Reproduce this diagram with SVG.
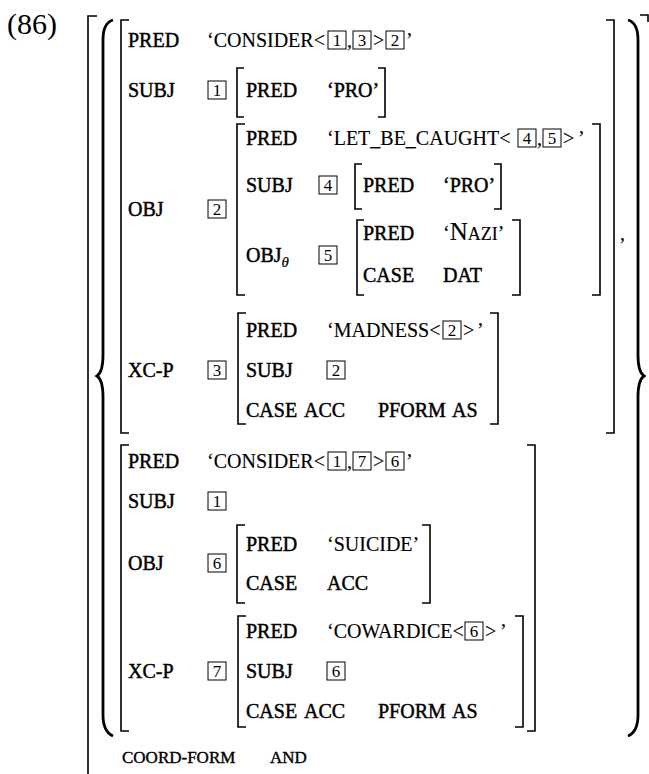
<svg xmlns="http://www.w3.org/2000/svg" width="649" height="774" viewBox="0 0 649 774">
<style>
text { font-family: "Liberation Serif", "Times New Roman", serif; fill: #000; }
.a { font-size: 20px; stroke: #000; stroke-width: 0.45; }
.v { font-size: 20px; stroke: #000; stroke-width: 0.15; }
.d { font-size: 17px; text-anchor: middle; }
.bx { fill: none; stroke: #000; stroke-width: 1; }
.br { fill: none; stroke: #000; stroke-width: 1.6; }
.brace { fill: none; stroke: #000; stroke-width: 2.8; }
.sm { font-size: 17px; stroke: #000; stroke-width: 0.4; }
</style>
<rect width="649" height="774" fill="#fff"/>
<text x="7" y="34" style="font-size:30px">(86)</text>

<g id="connectors">
  <path class="br" d="M97,16 H88 V774"/>
  <path class="br" d="M640,15 H648 V22"/>
  <path class="brace" d="M113,20 C106,22 103,28 103,40 V355 C103,368 100,374 97,376 C100,378 103,384 103,397 V715 C103,727 106,733 113,736"/>
  <path class="brace" d="M628,20 C635,22 638,28 638,40 V355 C638,368 641,374 644,376 C641,378 638,384 638,397 V715 C638,727 635,733 628,736"/>
</g>

<g id="conj1">
  <path class="br" d="M129,20 H121 V433 H129"/>
  <path class="br" d="M606,20 H614 V433 H606"/>
  <text class="a" x="128" y="47">PRED</text>
  <text class="v" x="207" y="47">‘CONSIDER&lt;</text>
  <rect class="bx" x="328" y="31" width="18" height="18"/><text class="d" x="337" y="46">1</text>
  <text class="v" x="347" y="47">,</text>
  <rect class="bx" x="353" y="31" width="18" height="18"/><text class="d" x="362" y="46">3</text>
  <text class="v" x="373" y="47">&gt;</text>
  <rect class="bx" x="386" y="31" width="18" height="18"/><text class="d" x="395" y="46">2</text>
  <text class="v" x="406" y="47">’</text>

  <text class="a" x="128" y="97">SUBJ</text>
  <rect class="bx" x="208" y="81" width="18" height="18"/><text class="d" x="217" y="96">1</text>
  <g id="subj1">
    <path class="br" d="M244,68 H237 V117 H244"/>
    <path class="br" d="M378,68 H385 V117 H378"/>
    <text class="a" x="246" y="97">PRED</text>
    <text class="a" x="327" y="97">‘PRO’</text>
  </g>

  <text class="a" x="128" y="216">OBJ</text>
  <rect class="bx" x="208" y="200" width="18" height="18"/><text class="d" x="217" y="215">2</text>
  <g id="obj1">
    <path class="br" d="M245,124 H237 V295 H245"/>
    <path class="br" d="M592,124 H600 V295 H592"/>
    <text class="a" x="246" y="145">PRED</text>
    <text class="v" x="327" y="145">‘LET_BE_CAUGHT&lt;</text>
    <rect class="bx" x="518" y="129" width="18" height="18"/><text class="d" x="527" y="144">4</text>
    <text class="v" x="537" y="145">,</text>
    <rect class="bx" x="543" y="129" width="18" height="18"/><text class="d" x="552" y="144">5</text>
    <text class="v" x="563" y="145">&gt;</text>
    <text class="v" x="578" y="145">’</text>

    <text class="a" x="246" y="192">SUBJ</text>
    <rect class="bx" x="319" y="176" width="18" height="18"/><text class="d" x="328" y="191">4</text>
    <g id="subj4">
      <path class="br" d="M362,164 H355 V209 H362"/>
      <path class="br" d="M494,164 H501 V209 H494"/>
      <text class="a" x="363" y="192">PRED</text>
      <text class="a" x="443" y="192">‘PRO’</text>
    </g>

    <text class="a" x="246" y="262">OBJ<tspan style="font-size:15px;font-style:italic;stroke-width:0.2" dy="5">θ</tspan></text>
    <rect class="bx" x="319" y="246" width="18" height="18"/><text class="d" x="328" y="261">5</text>
    <g id="obj5">
      <path class="br" d="M364,220 H357 V295 H364"/>
      <path class="br" d="M512,220 H520 V295 H512"/>
      <text class="a" x="363" y="240">PRED</text>
      <text class="v" x="443" y="240">‘<tspan style="font-size:25px">N</tspan><tspan style="font-size:18px">AZI</tspan>’</text>
      <text class="a" x="363" y="282">CASE</text>
      <text class="a" x="443" y="282">DAT</text>
    </g>
  </g>
  <text class="v" x="620" y="240">,</text>

  <text class="a" x="128" y="377">XC-P</text>
  <rect class="bx" x="208" y="361" width="18" height="18"/><text class="d" x="217" y="376">3</text>
  <g id="xcp3">
    <path class="br" d="M246,313 H238 V424 H246"/>
    <path class="br" d="M490,313 H498 V424 H490"/>
    <text class="a" x="246" y="337">PRED</text>
    <text class="v" x="327" y="337">‘MADNESS&lt;</text>
    <rect class="bx" x="443" y="321" width="18" height="18"/><text class="d" x="452" y="336">2</text>
    <text class="v" x="463" y="337">&gt;</text>
    <text class="v" x="477" y="337">’</text>
    <text class="a" x="246" y="377">SUBJ</text>
    <rect class="bx" x="327" y="361" width="18" height="18"/><text class="d" x="336" y="376">2</text>
    <text class="a" x="246" y="417">CASE</text>
    <text class="a" x="304" y="417">ACC</text>
    <text class="a" x="378" y="417">PFORM</text>
    <text class="a" x="452" y="417">AS</text>
  </g>
</g>

<g id="conj2">
  <path class="br" d="M129,445 H121 V731 H129"/>
  <path class="br" d="M527,445 H535 V731 H527"/>
  <text class="a" x="128" y="468">PRED</text>
  <text class="v" x="207" y="468">‘CONSIDER&lt;</text>
  <rect class="bx" x="328" y="452" width="18" height="18"/><text class="d" x="337" y="467">1</text>
  <text class="v" x="347" y="468">,</text>
  <rect class="bx" x="353" y="452" width="18" height="18"/><text class="d" x="362" y="467">7</text>
  <text class="v" x="373" y="468">&gt;</text>
  <rect class="bx" x="386" y="452" width="18" height="18"/><text class="d" x="395" y="467">6</text>
  <text class="v" x="406" y="468">’</text>

  <text class="a" x="128" y="508">SUBJ</text>
  <rect class="bx" x="208" y="492" width="18" height="18"/><text class="d" x="217" y="507">1</text>

  <text class="a" x="128" y="570">OBJ</text>
  <rect class="bx" x="208" y="554" width="18" height="18"/><text class="d" x="217" y="569">6</text>
  <g id="obj6">
    <path class="br" d="M245,525 H237 V603 H245"/>
    <path class="br" d="M422,525 H430 V603 H422"/>
    <text class="a" x="246" y="551">PRED</text>
    <text class="v" x="327" y="551">‘SUICIDE’</text>
    <text class="a" x="246" y="590">CASE</text>
    <text class="a" x="327" y="590">ACC</text>
  </g>

  <text class="a" x="128" y="678">XC-P</text>
  <rect class="bx" x="208" y="662" width="18" height="18"/><text class="d" x="217" y="677">7</text>
  <g id="xcp7">
    <path class="br" d="M246,616 H238 V727 H246"/>
    <path class="br" d="M515,616 H523 V727 H515"/>
    <text class="a" x="246" y="638">PRED</text>
    <text class="v" x="327" y="638">‘COWARDICE&lt;</text>
    <rect class="bx" x="465" y="622" width="18" height="18"/><text class="d" x="474" y="637">6</text>
    <text class="v" x="485" y="638">&gt;</text>
    <text class="v" x="500" y="638">’</text>
    <text class="a" x="246" y="678">SUBJ</text>
    <rect class="bx" x="327" y="662" width="18" height="18"/><text class="d" x="336" y="677">6</text>
    <text class="a" x="246" y="718">CASE</text>
    <text class="a" x="304" y="718">ACC</text>
    <text class="a" x="378" y="718">PFORM</text>
    <text class="a" x="452" y="718">AS</text>
  </g>
</g>

<g id="coord">
  <text class="sm" x="122" y="763">COORD-FORM</text>
  <text class="sm" x="270" y="763">AND</text>
</g>
</svg>
